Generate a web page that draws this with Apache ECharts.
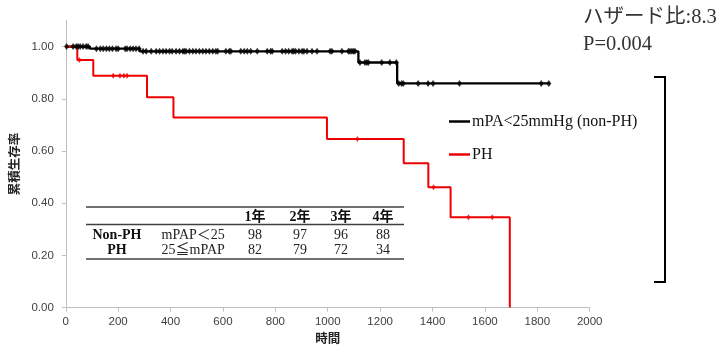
<!DOCTYPE html>
<html><head><meta charset="utf-8">
<script src="https://cdn.jsdelivr.net/npm/echarts@6/dist/echarts.min.js"></script>
<style>html,body{margin:0;padding:0;background:#fff}#c{width:721px;height:350px}</style>
</head><body><div id="c"></div>
<script>
// ---- data ----
const xTicks = [0, 200, 400, 600, 800, 1000, 1200, 1400, 1600, 1800, 2000];
const yTicks = [0, 0.2, 0.4, 0.6, 0.8, 1.0];
const nonPHName = 'mPA<25mmHg (non-PH)';
const phName = 'PH';
// Kaplan-Meier steps: [time, survival from that time on]
const nonPHSteps = [[0, 1.0], [92, 0.992], [282, 0.982], [1117, 0.939], [1265, 0.859], [1847, 0.859]];
const phSteps = [[0, 1.0], [44, 0.949], [105, 0.888], [310, 0.806], [411, 0.728], [997, 0.646], [1290, 0.553], [1384, 0.461], [1469, 0.346], [1695, 0.0]];
// censored times
const nonPHCensor = [3, 28, 40, 47, 55, 66, 78, 85,
  117, 132, 143, 155, 166, 178, 192, 200, 227, 234, 246, 257, 268, 280,
  295, 307, 326, 345, 358, 371, 383, 396, 406, 421, 434, 447, 453, 459, 472, 485, 497, 510, 523, 535, 548, 561, 573, 580,
  611, 624, 630, 668, 681, 693, 706, 731, 769, 782, 788, 826, 839, 851, 864, 870, 877, 890, 902, 909, 921, 940, 959,
  1009, 1016, 1054, 1079, 1085, 1092, 1098, 1104,
  1123, 1142, 1149, 1155, 1206, 1237, 1262,
  1271, 1282, 1288, 1345, 1383, 1402, 1503, 1815, 1844];
const phCensor = [52, 181, 207, 222, 234, 1113, 1404, 1537, 1628];
// table
const tableYears = ['1年', '2年', '3年', '4年'];
const tableRowNames = ['Non-PH', 'PH'];
const tableRowDesc = ['mPAP＜25', '25≦mPAP'];
const tableNonPH = [98, 97, 96, 88];
const tablePH = [82, 79, 72, 34];
const hazardText = 'ハザード比:8.3';
const pText = 'P=0.004';

// ---- helpers ----
function survivalAt(steps, t) {
  let s = steps[0][1];
  for (const st of steps) { if (st[0] <= t) s = st[1]; }
  return s;
}
const nonPHMarks = nonPHCensor.map(t => [t, survivalAt(nonPHSteps, t)]);
const phMarks = phCensor.map(t => [t, survivalAt(phSteps, t)]);

const serif = '"Liberation Serif","Times New Roman","Noto Sans CJK JP",serif';
const cjk = '"Noto Sans CJK JP","Noto Sans",sans-serif';
const sans = '"Liberation Sans",Arial,sans-serif';

// table graphics
const tbl = [];
const tLeft = 86, tRight = 404;
[207, 224.5, 259].forEach(y => tbl.push({type: 'line', shape: {x1: tLeft, y1: y, x2: tRight, y2: y}, style: {stroke: '#404040', lineWidth: 1.6}, silent: true}));
const colX = [255, 300, 341, 383];
const rowY = [235, 250.7];
tableYears.forEach((s, i) => tbl.push({type: 'text', x: colX[i], y: 217, style: {text: s, font: 'bold 14px ' + serif, fill: '#111', textAlign: 'center', textVerticalAlign: 'middle'}}));
tableRowNames.forEach((s, i) => tbl.push({type: 'text', x: 117, y: rowY[i], style: {text: s, font: 'bold 14px ' + serif, fill: '#111', textAlign: 'center', textVerticalAlign: 'middle'}}));
tableRowDesc.forEach((s, i) => tbl.push({type: 'text', x: 161.5, y: rowY[i], style: {text: s, font: '14px ' + serif, fill: '#222', textAlign: 'left', textVerticalAlign: 'middle'}}));
[tableNonPH, tablePH].forEach((row, r) => row.forEach((v, i) => tbl.push({type: 'text', x: colX[i], y: rowY[r], style: {text: String(v), font: '14px ' + serif, fill: '#222', textAlign: 'center', textVerticalAlign: 'middle'}})));

const chart = echarts.init(document.getElementById('c'), null, {renderer: 'canvas'});
chart.setOption({
  animation: false,
  backgroundColor: '#fff',
  grid: {left: 62.3, right: 131.3, top: 20.5, bottom: 41, containLabel: false},
  xAxis: {
    type: 'value', min: 0, max: 2000, interval: 200,
    name: '時間', nameLocation: 'middle', nameGap: 24,
    nameTextStyle: {fontFamily: cjk, fontWeight: 'bold', fontSize: 12.5, color: '#222'},
    axisLine: {show: true, lineStyle: {color: '#bfbfbf', width: 1}},
    axisTick: {show: true, length: 4, lineStyle: {color: '#bfbfbf'}, customValues: xTicks},
    axisLabel: {color: '#404040', fontSize: 11.5, fontFamily: sans, margin: 8, customValues: xTicks,
      formatter: v => String(v)},
    splitLine: {show: false}
  },
  yAxis: {
    type: 'value', min: 0, max: 1.1, interval: 0.2,
    name: '累積生存率', nameLocation: 'middle', nameGap: 35,
    nameTextStyle: {fontFamily: cjk, fontWeight: 'bold', fontSize: 12.5, color: '#222'},
    axisLine: {show: true, lineStyle: {color: '#bfbfbf', width: 1}},
    axisTick: {show: true, length: 4, lineStyle: {color: '#bfbfbf'}, customValues: yTicks},
    axisLabel: {color: '#404040', fontSize: 11.5, fontFamily: sans, margin: 12,
      customValues: yTicks, formatter: v => Number(v).toFixed(2)},
    splitLine: {show: false}
  },
  legend: {
    data: [nonPHName, phName], orient: 'vertical', left: 449, top: 113.5, padding: 0,
    itemGap: 17, icon: 'rect', itemWidth: 21, itemHeight: 2.5,
    textStyle: {fontFamily: serif, fontSize: 16, color: '#111', padding: [0, 0, 0, -3]}
  },
  series: [
    {name: nonPHName, type: 'line', step: 'end', data: nonPHSteps, showSymbol: false, color: '#000',
      lineStyle: {color: '#000', width: 2.3}, itemStyle: {color: '#000'}, z: 2},
    {name: phName, type: 'line', step: 'end', data: phSteps, showSymbol: false, color: '#ee0000',
      lineStyle: {color: '#ee0000', width: 2}, itemStyle: {color: '#ee0000'}, z: 3},
    {name: 'nonPHCensor', type: 'scatter', data: nonPHMarks, symbol: 'diamond', symbolSize: [5, 7],
      itemStyle: {color: '#000'}, z: 4},
    {name: 'phCensor', type: 'scatter', data: phMarks, symbol: 'diamond', symbolSize: [4, 6],
      itemStyle: {color: '#ee0000'}, z: 5}
  ],
  graphic: [
    {type: 'text', x: 583, y: 18, style: {text: hazardText, font: '20.5px ' + serif, fill: '#333', textAlign: 'left', textVerticalAlign: 'middle'}},
    {type: 'text', x: 583, y: 45, style: {text: pText, font: '20.5px ' + serif, fill: '#333', textAlign: 'left', textVerticalAlign: 'middle'}},
    {type: 'polyline', shape: {points: [[654, 77], [665, 77], [665, 282], [654, 282]]}, style: {stroke: '#000', lineWidth: 2, fill: null}, silent: true}
  ].concat(tbl)
});
</script></body></html>
